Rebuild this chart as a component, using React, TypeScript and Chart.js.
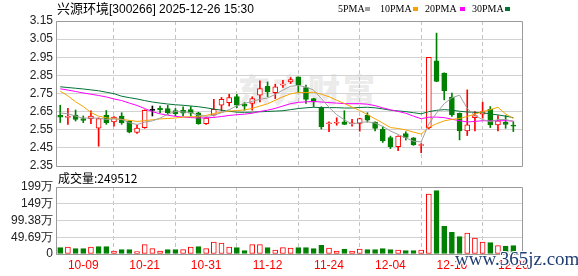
import React, { useEffect, useRef } from 'react';
import { Chart, registerables } from 'chart.js';

Chart.register(...registerables);

// ---------- data ----------
const dates = [
  '09-26', '09-29', '09-30', '10-09', '10-10', '10-13', '10-14', '10-15', '10-16', '10-17',
  '10-20', '10-21', '10-22', '10-23', '10-24', '10-27', '10-28', '10-29', '10-30', '10-31',
  '11-03', '11-04', '11-05', '11-06', '11-07', '11-10', '11-11', '11-12', '11-13', '11-14',
  '11-17', '11-18', '11-19', '11-20', '11-21', '11-24', '11-25', '11-26', '11-27', '11-28',
  '12-01', '12-02', '12-03', '12-04', '12-05', '12-08', '12-09', '12-10', '12-11', '12-12',
  '12-15', '12-16', '12-17', '12-18', '12-19', '12-22', '12-23', '12-24', '12-25', '12-26',
];

const openP = [
  2.63, 2.618, 2.631, 2.611, 2.611, 2.559, 2.63, 2.593, 2.626, 2.598,
  2.535, 2.561, 2.657, 2.668, 2.667, 2.656, 2.657, 2.661, 2.644, 2.583,
  2.631, 2.685, 2.70, 2.733, 2.691, 2.695, 2.741, 2.79, 2.755, 2.796,
  2.814, 2.842, 2.783, 2.722, 2.673, 2.583, 2.586, 2.594, 2.583, 2.585,
  2.629, 2.592, 2.553, 2.507, 2.456, 2.529, 2.505, 2.463, 2.562, 2.93,
  2.862, 2.73, 2.641, 2.544, 2.617, 2.636, 2.663, 2.577, 2.591, 2.573,
];
const highP = [
  2.685, 2.668, 2.659, 2.626, 2.654, 2.615, 2.656, 2.622, 2.644, 2.60,
  2.574, 2.66, 2.681, 2.681, 2.685, 2.667, 2.676, 2.678, 2.646, 2.617,
  2.718, 2.728, 2.746, 2.746, 2.70, 2.732, 2.82, 2.814, 2.801, 2.823,
  2.838, 2.842, 2.796, 2.724, 2.677, 2.594, 2.616, 2.655, 2.607, 2.614,
  2.644, 2.594, 2.566, 2.515, 2.516, 2.539, 2.507, 2.474, 2.95, 3.083,
  2.864, 2.752, 2.643, 2.77, 2.65, 2.702, 2.678, 2.628, 2.628, 2.595,
];
const lowP = [
  2.59, 2.58, 2.598, 2.589, 2.583, 2.459, 2.58, 2.57, 2.58, 2.533,
  2.53, 2.558, 2.626, 2.644, 2.635, 2.626, 2.626, 2.626, 2.58, 2.58,
  2.626, 2.654, 2.681, 2.672, 2.658, 2.658, 2.704, 2.732, 2.722, 2.783,
  2.805, 2.754, 2.695, 2.677, 2.554, 2.539, 2.575, 2.578, 2.57, 2.542,
  2.592, 2.544, 2.48, 2.446, 2.434, 2.493, 2.464, 2.423, 2.555, 2.815,
  2.715, 2.623, 2.494, 2.518, 2.544, 2.614, 2.562, 2.544, 2.558, 2.54,
];
const closeP = [
  2.62, 2.622, 2.607, 2.602, 2.626, 2.611, 2.589, 2.62, 2.589, 2.537,
  2.559, 2.657, 2.657, 2.66, 2.644, 2.639, 2.641, 2.642, 2.583, 2.615,
  2.663, 2.718, 2.728, 2.685, 2.68, 2.722, 2.777, 2.759, 2.787, 2.801,
  2.827, 2.796, 2.717, 2.704, 2.567, 2.586, 2.589, 2.579, 2.586, 2.612,
  2.603, 2.557, 2.489, 2.456, 2.515, 2.507, 2.466, 2.468, 2.95, 2.816,
  2.765, 2.632, 2.544, 2.577, 2.628, 2.65, 2.577, 2.599, 2.58, 2.57,
];

// volume in 万
const volume = [
  18.8, 20.8, 15.8, 15.8, 20.8, 21.8, 21.8, 8.9, 12.9, 12.9,
  6.9, 27.7, 15.8, 8.9, 12.9, 12.9, 12.9, 20.8, 21.8, 15.8,
  35.6, 32.6, 20.8, 18.8, 9.9, 27.7, 27.7, 18.8, 11.9, 18.8,
  17.8, 18.8, 18.8, 15.8, 25.7, 17.8, 8.9, 14.8, 8.9, 14.8,
  12.9, 12.9, 15.8, 12.9, 11.9, 9.9, 9.9, 11.9, 178, 188,
  82, 64, 51.4, 62.3, 47.5, 35.6, 33.6, 24.7, 23.5, 24.95,
];
// 1 = red (up), 0 = green (down)
const volUp = [
  0, 1, 0, 0, 1, 0, 0, 1, 0, 0,
  1, 1, 1, 1, 0, 0, 1, 1, 0, 1,
  1, 1, 1, 0, 0, 1, 1, 0, 1, 1,
  1, 0, 0, 0, 0, 1, 1, 0, 1, 1,
  0, 0, 0, 0, 1, 0, 0, 1, 1, 0,
  0, 0, 0, 1, 1, 1, 0, 1, 0, 0,
];

const ma5 = [
  2.643, 2.638, 2.625, 2.614, 2.615, 2.614, 2.607, 2.610, 2.607, 2.589,
  2.579, 2.592, 2.599, 2.614, 2.635, 2.651, 2.648, 2.645, 2.630, 2.624,
  2.629, 2.644, 2.661, 2.682, 2.695, 2.707, 2.718, 2.725, 2.745, 2.769,
  2.790, 2.794, 2.786, 2.769, 2.722, 2.674, 2.633, 2.605, 2.581, 2.590,
  2.594, 2.587, 2.569, 2.543, 2.524, 2.505, 2.487, 2.483, 2.582, 2.642,
  2.694, 2.726, 2.741, 2.667, 2.629, 2.606, 2.595, 2.606, 2.607, 2.595,
];
const ma10 = [
  2.763, 2.737, 2.704, 2.678, 2.645, 2.625, 2.616, 2.611, 2.607, 2.602,
  2.596, 2.600, 2.605, 2.610, 2.612, 2.615, 2.620, 2.622, 2.622, 2.629,
  2.640, 2.646, 2.653, 2.656, 2.659, 2.668, 2.681, 2.693, 2.713, 2.732,
  2.748, 2.756, 2.755, 2.757, 2.746, 2.732, 2.713, 2.695, 2.675, 2.656,
  2.634, 2.610, 2.587, 2.562, 2.557, 2.549, 2.537, 2.526, 2.563, 2.583,
  2.599, 2.607, 2.612, 2.624, 2.636, 2.650, 2.661, 2.674, 2.637, 2.612,
];
const ma20 = [
  2.776, 2.769, 2.761, 2.753, 2.746, 2.739, 2.731, 2.720, 2.711, 2.697,
  2.684, 2.667, 2.650, 2.638, 2.630, 2.624, 2.620, 2.617, 2.615, 2.616,
  2.618, 2.623, 2.629, 2.633, 2.636, 2.641, 2.651, 2.658, 2.668, 2.681,
  2.694, 2.701, 2.704, 2.706, 2.703, 2.700, 2.697, 2.694, 2.694, 2.694,
  2.691, 2.683, 2.671, 2.660, 2.651, 2.641, 2.625, 2.611, 2.619, 2.620,
  2.617, 2.608, 2.600, 2.593, 2.596, 2.600, 2.599, 2.600, 2.600, 2.598,
];
const ma30 = [
  2.787, 2.783, 2.779, 2.775, 2.770, 2.765, 2.757, 2.749, 2.735, 2.727,
  2.720, 2.711, 2.703, 2.697, 2.692, 2.688, 2.685, 2.681, 2.677, 2.671,
  2.664, 2.658, 2.652, 2.647, 2.646, 2.647, 2.649, 2.651, 2.653, 2.655,
  2.661, 2.667, 2.671, 2.674, 2.672, 2.672, 2.672, 2.670, 2.670, 2.673,
  2.674, 2.671, 2.665, 2.658, 2.654, 2.650, 2.644, 2.638, 2.650, 2.657,
  2.661, 2.658, 2.652, 2.648, 2.646, 2.644, 2.637, 2.632, 2.625, 2.617,
];

const axisDates = ['10-09', '10-21', '10-31', '11-12', '11-24', '12-04', '12-16', '12-26'];
const priceTicks = [2.35, 2.45, 2.55, 2.65, 2.75, 2.85, 2.95, 3.05, 3.15];
const volTicks = [0, 49.69, 99.38, 149.07, 198.76];
const volTickLabels = ['0', '49.69万', '99.38万', '149万', '199万'];

const titleName = '兴源环境';
const titleRest = '[300266] 2025-12-26 15:30';
const volLabel = '成交量:249512';
const maNames = ['5PMA', '10PMA', '20PMA', '30PMA'];

// ---------- styles ----------
const RED = '#ff0000';
const GREEN = '#008000';
const BLACK = '#000000';
const MA_COLORS = ['#a0a0a0', '#f5a300', '#ff00ff', '#007336'];
const X_MIN = -0.55;
const X_MAX = 60.13;
const FONT = "'Liberation Sans', Arial, sans-serif";

const alignPx = (v: number) => Math.round(v - 0.5) + 0.5;

const framePlugin = {
  id: 'frame',
  beforeDatasetsDraw(chart: any) {
    const { ctx, chartArea: a } = chart;
    const l = alignPx(a.left), r = alignPx(a.right), t = alignPx(a.top), b = alignPx(a.bottom);
    ctx.save();
    ctx.strokeStyle = '#9a9a9a';
    ctx.lineWidth = 1;
    ctx.beginPath();
    ctx.moveTo(l, t); ctx.lineTo(r, t); ctx.lineTo(r, b); ctx.lineTo(l, b); ctx.closePath();
    ctx.stroke();
    ctx.restore();
  },
};

export default function App() {
  const priceRef = useRef<HTMLCanvasElement>(null);
  const volRef = useRef<HTMLCanvasElement>(null);

  useEffect(() => {
    document.body.style.margin = '0';
    const idx = dates.map((_, i) => i);
    const cColor = idx.map((i) => (closeP[i] > openP[i] ? RED : closeP[i] < openP[i] ? GREEN : BLACK));
    const cFill = idx.map((i) => (closeP[i] > openP[i] ? '#ffffff' : cColor[i]));
    const tickIdx = axisDates.map((d) => dates.indexOf(d));

    const xScale = (showLabels: boolean) => ({
      type: 'linear',
      min: X_MIN,
      max: X_MAX,
      offset: false,
      afterBuildTicks: (s: any) => {
        s.ticks = tickIdx.map((v) => ({ value: v }));
      },
      afterFit: (s: any) => {
        s.height = showLabels ? 22 : 0;
        s.paddingLeft = 0;
        s.paddingRight = 0;
        s.paddingTop = 0;
        s.paddingBottom = 0;
      },
      grid: { color: '#c4c4c4', drawTicks: false, lineWidth: 1, borderDash: [4, 3] },
      border: { display: false, dash: [4, 3] },
      ticks: {
        display: showLabels,
        autoSkip: false,
        maxRotation: 0,
        padding: 4,
        color: RED,
        font: { family: FONT, size: 12 },
        callback: (v: any) => dates[Math.round(Number(v))] ?? '',
      },
    });

    const yFit = (s: any) => {
      s.width = 56;
      s.paddingTop = 0;
      s.paddingBottom = 0;
      s.paddingLeft = 0;
      s.paddingRight = 0;
    };

    const maSets = [ma5, ma10, ma20, ma30].map((arr, k) => ({
      type: 'line',
      label: maNames[k],
      data: arr.map((v, i) => ({ x: i, y: v })),
      borderColor: MA_COLORS[k],
      borderWidth: 1,
      pointRadius: 0,
      tension: 0,
      fill: false,
      order: 0,
    }));

    const priceChart = new Chart(priceRef.current as HTMLCanvasElement, {
      type: 'bar',
      data: {
        datasets: [
          ...maSets,
          {
            type: 'bar',
            label: 'body',
            data: idx.map((i) => ({ x: i, y: [Math.min(openP[i], closeP[i]), Math.max(openP[i], closeP[i])] })),
            backgroundColor: cFill,
            borderColor: cColor,
            borderWidth: 1,
            borderSkipped: false,
            barThickness: 5,
            minBarLength: 1,
            grouped: false,
            order: 1,
          },
          {
            type: 'bar',
            label: 'wick',
            data: idx.map((i) => ({ x: i, y: [lowP[i], highP[i]] })),
            backgroundColor: cColor,
            borderWidth: 0,
            barThickness: 1,
            grouped: false,
            order: 2,
          },
        ] as any,
      },
      options: {
        responsive: false,
        animation: false,
        devicePixelRatio: 1,
        layout: { padding: { left: 0, right: 56, top: 21, bottom: 4 } },
        plugins: { legend: { display: false }, tooltip: { enabled: false } },
        scales: {
          x: xScale(false) as any,
          y: {
            type: 'linear',
            min: 2.35,
            max: 3.15,
            afterBuildTicks: (s: any) => {
              s.ticks = priceTicks.map((v) => ({ value: v }));
            },
            afterFit: yFit,
            grid: { color: '#d2d2d2', drawTicks: false, lineWidth: 1 },
            border: { display: false },
            ticks: {
              padding: 3,
              autoSkip: false,
              color: '#222',
              font: { family: FONT, size: 12 },
              callback: (v: any) => Number(v).toFixed(2),
            },
          } as any,
        },
      },
      plugins: [framePlugin],
    });

    const volChart = new Chart(volRef.current as HTMLCanvasElement, {
      type: 'bar',
      data: {
        datasets: [
          {
            label: 'vol',
            data: idx.map((i) => ({ x: i, y: volume[i] })),
            backgroundColor: idx.map((i) => (volUp[i] ? '#ffffff' : GREEN)),
            borderColor: idx.map((i) => (volUp[i] ? RED : GREEN)),
            borderWidth: 1,
            borderSkipped: false,
            barThickness: 5,
            grouped: false,
          },
        ] as any,
      },
      options: {
        responsive: false,
        animation: false,
        devicePixelRatio: 1,
        layout: { padding: { left: 0, right: 56, top: 17, bottom: 0 } },
        plugins: { legend: { display: false }, tooltip: { enabled: false } },
        scales: {
          x: xScale(true) as any,
          y: {
            type: 'linear',
            min: 0,
            max: 198.76,
            afterBuildTicks: (s: any) => {
              s.ticks = volTicks.map((v) => ({ value: v }));
            },
            afterFit: yFit,
            grid: { color: '#d2d2d2', drawTicks: false, lineWidth: 1 },
            border: { display: false },
            ticks: {
              padding: 3,
              autoSkip: false,
              color: '#222',
              font: { family: FONT, size: 12 },
              callback: (v: any) => {
                const k = volTicks.findIndex((t) => Math.abs(t - Number(v)) < 0.01);
                return k >= 0 ? volTickLabels[k] : '';
              },
            },
          } as any,
        },
      },
      plugins: [framePlugin],
    });

    return () => {
      priceChart.destroy();
      volChart.destroy();
    };
  }, []);

  const legendPos = [
    { text: 338, sw: 365 },
    { text: 380, sw: 413 },
    { text: 425, sw: 460 },
    { text: 472, sw: 505 },
  ];

  return (
    <div style={{ position: 'fixed', left: 0, top: 0, width: 578, height: 276, background: '#ffffff', overflow: 'hidden' }}>
      <div
        style={{
          position: 'absolute', left: 238, top: 68, fontFamily: "'Noto Sans CJK SC', sans-serif", fontWeight: 900,
          fontSize: 32, letterSpacing: 3, color: '#ebebeb', lineHeight: '40px', whiteSpace: 'nowrap', zIndex: 0,
        }}
      >
        东方财富
      </div>
      <canvas ref={priceRef} width={578} height={170} style={{ position: 'absolute', left: 0, top: 0, zIndex: 1 }} />
      <canvas ref={volRef} width={578} height={106} style={{ position: 'absolute', left: 0, top: 170, zIndex: 1 }} />
      <div style={{ position: 'absolute', left: 57, top: 0, lineHeight: '16px', whiteSpace: 'nowrap', color: '#000', zIndex: 2 }}>
        <span style={{ fontFamily: "'Noto Sans CJK SC', sans-serif", fontSize: 13 }}>{titleName}</span>
        <span style={{ fontFamily: FONT, fontSize: 12 }}>{titleRest}</span>
      </div>
      {maNames.map((n, k) => (
        <React.Fragment key={n}>
          <div
            style={{
              position: 'absolute', left: legendPos[k].text, top: 2, fontFamily: "'Liberation Serif', serif", fontSize: 10,
              lineHeight: '13px', color: '#000', whiteSpace: 'nowrap', zIndex: 2,
            }}
          >
            {n}
          </div>
          <div style={{ position: 'absolute', left: legendPos[k].sw, top: 7, width: 5, height: 4, background: MA_COLORS[k], zIndex: 2 }} />
        </React.Fragment>
      ))}
      <div
        style={{
          position: 'absolute', left: 58, top: 170, fontFamily: "'Noto Sans CJK SC', sans-serif", fontSize: 12,
          lineHeight: '16px', color: '#000', whiteSpace: 'nowrap', zIndex: 2,
        }}
      >
        {volLabel}
      </div>
      <div
        style={{
          position: 'absolute', left: 455, top: 248, fontFamily: "'Liberation Serif', serif", fontSize: 19,
          lineHeight: '22px', color: '#1f3d72', whiteSpace: 'nowrap', zIndex: 3,
          textShadow: '1px 1px 0 #fff, -1px -1px 0 #fff, 1px -1px 0 #fff, -1px 1px 0 #fff',
        }}
      >
        www.365jz.com
      </div>
    </div>
  );
}
